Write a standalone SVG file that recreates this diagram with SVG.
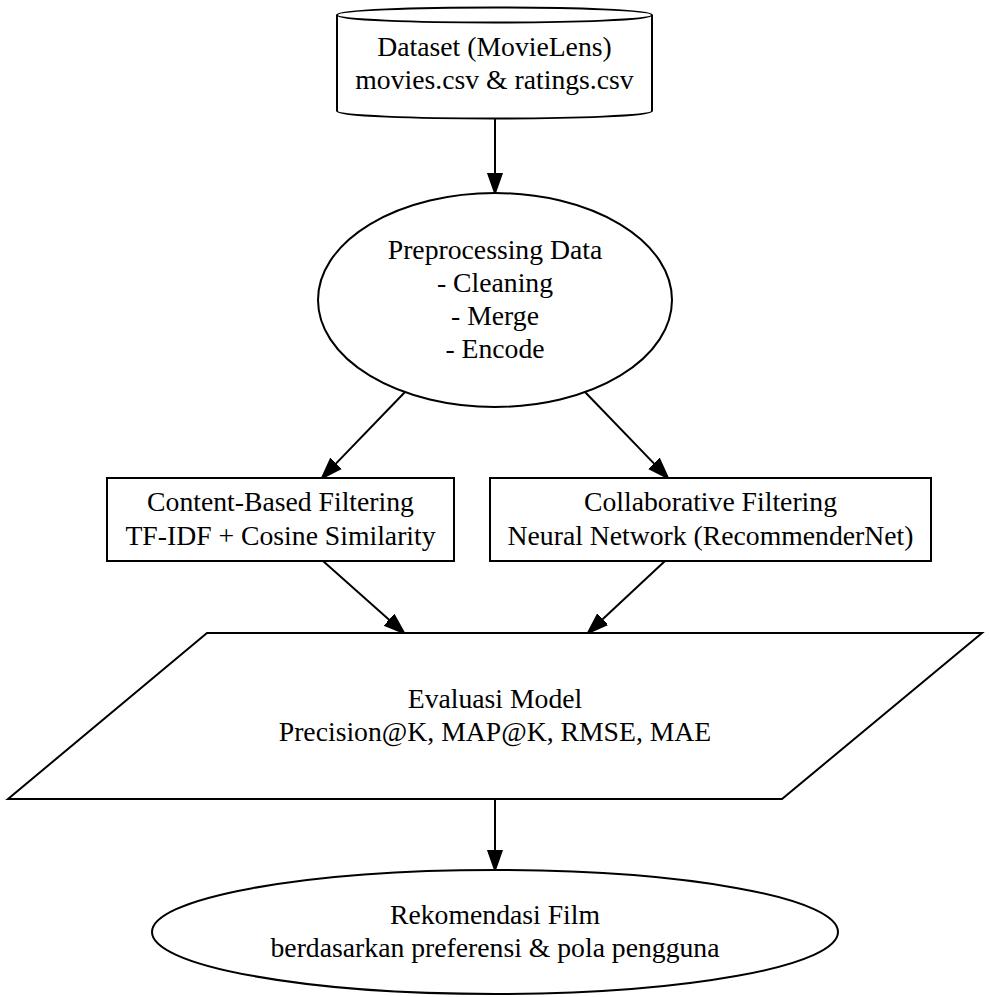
<svg xmlns="http://www.w3.org/2000/svg" width="990" height="997" viewBox="0 0 990 997">
<style>
.s{fill:#fff;stroke:#000;stroke-width:2}
.t{font-family:"Liberation Serif","Times New Roman",serif;font-size:27.7px;text-anchor:middle;fill:#000}
.e{fill:none;stroke:#000;stroke-width:2}
</style>
<defs>
<marker id="a" markerUnits="userSpaceOnUse" markerWidth="24" markerHeight="18" viewBox="0 -9 24 18" refX="0" refY="0" orient="auto">
<path d="M0,-7 L20,0 L0,7 Z" fill="#000" stroke="#000" stroke-width="2"/>
</marker>
</defs>
<rect width="990" height="997" fill="#fff"/>
<g id="edges">
<line class="e" x1="495" y1="118" x2="495" y2="173" marker-end="url(#a)"/>
<line class="e" x1="405" y1="392" x2="335.9" y2="463.6" marker-end="url(#a)"/>
<line class="e" x1="585" y1="392" x2="654.1" y2="463.6" marker-end="url(#a)"/>
<line class="e" x1="323" y1="561" x2="389.1" y2="619.7" marker-end="url(#a)"/>
<line class="e" x1="665" y1="561" x2="602.6" y2="619.3" marker-end="url(#a)"/>
<line class="e" x1="495" y1="799" x2="495" y2="850" marker-end="url(#a)"/>
</g>
<g id="dataset">
<path class="s" d="M337,15 L337,111 C337,121 652,121 652,111 L652,15 C652,5 337,5 337,15 Z"/>
<path class="e" d="M337,15 C337,25 652,25 652,15"/>
<text class="t" x="494.5" y="56">Dataset (MovieLens)</text>
<text class="t" x="494.5" y="89">movies.csv &amp; ratings.csv</text>
</g>
<g id="preprocessing">
<ellipse class="s" cx="495" cy="300" rx="177" ry="107"/>
<text class="t" x="495" y="258.5">Preprocessing Data</text>
<text class="t" x="495" y="291.7">- Cleaning</text>
<text class="t" x="495" y="324.9">- Merge</text>
<text class="t" x="495" y="358.1">- Encode</text>
</g>
<g id="cbf">
<rect class="s" x="107" y="478" width="347" height="83"/>
<text class="t" x="280.5" y="511">Content-Based Filtering</text>
<text class="t" x="280.5" y="544.5">TF-IDF + Cosine Similarity</text>
</g>
<g id="cf">
<rect class="s" x="490" y="478" width="441" height="83"/>
<text class="t" x="710.5" y="511">Collaborative Filtering</text>
<text class="t" x="710.5" y="544.5">Neural Network (RecommenderNet)</text>
</g>
<g id="evaluasi">
<polygon class="s" points="207,633 982,633 782,799 8,799"/>
<text class="t" x="495" y="708">Evaluasi Model</text>
<text class="t" x="495" y="741">Precision@K, MAP@K, RMSE, MAE</text>
</g>
<g id="rekomendasi">
<ellipse class="s" cx="495" cy="932" rx="343" ry="62"/>
<text class="t" x="495" y="924">Rekomendasi Film</text>
<text class="t" x="495" y="957">berdasarkan preferensi &amp; pola pengguna</text>
</g>
</svg>
